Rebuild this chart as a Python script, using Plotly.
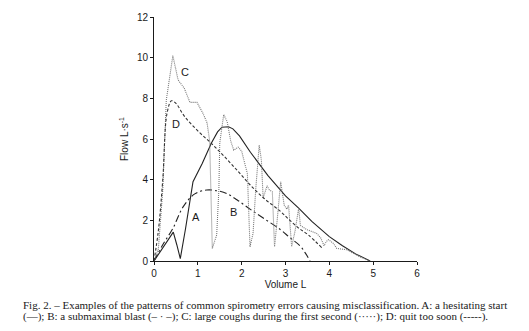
import plotly.graph_objects as go

# Flow-volume curves (Volume L, Flow L/s)
vol_a = [0, 0.2, 0.32, 0.44, 0.52, 0.60, 0.72, 0.89, 1.1, 1.31, 1.45, 1.55, 1.7, 1.8, 1.95, 2.2, 2.6, 3.0, 3.3, 3.6, 4.0, 4.3, 4.6, 4.93]
flow_a = [0, 0.65, 1.05, 1.42, 0.8, 0.12, 1.6, 3.9, 4.8, 5.8, 6.35, 6.58, 6.6, 6.5, 6.15, 5.35, 4.2, 3.2, 2.6, 1.95, 1.2, 0.75, 0.35, 0]

vol_b = [0, 0.2, 0.43, 0.66, 0.93, 1.2, 1.45, 1.66, 1.9, 2.19, 2.5, 2.88, 3.1, 3.33, 3.45, 3.56]
flow_b = [0, 0.8, 1.6, 2.65, 3.3, 3.49, 3.45, 3.32, 3.0, 2.55, 2.1, 1.55, 1.15, 0.75, 0.4, 0]

vol_c = [0, 0.1, 0.2, 0.28, 0.43, 0.55, 0.69, 0.82, 0.98, 1.12, 1.21, 1.27, 1.33, 1.43, 1.48, 1.5, 1.59, 1.67,
         1.75, 1.82, 1.92, 2.0, 2.07, 2.13, 2.19, 2.26, 2.32, 2.4, 2.45, 2.49, 2.58, 2.63, 2.7, 2.75, 2.81,
         2.89, 2.97, 3.03, 3.07, 3.14, 3.22, 3.3, 3.34, 3.48, 3.71, 3.8, 3.88, 3.93, 3.98, 4.09, 4.17, 4.4, 4.7, 4.93]
flow_c = [0, 0.6, 3.5, 7.9, 10.1, 8.9, 8.5, 7.8, 7.8, 7.25, 6.8, 5.9, 0.62, 1.28, 3.5, 5.8, 7.2, 6.85,
          5.9, 5.45, 5.6, 5.4, 4.8, 4.3, 0.7, 1.36, 3.5, 5.7, 4.96, 3.1, 3.7, 3.5, 3.4, 0.7, 2.0,
          3.9, 2.75, 2.55, 2.75, 0.7, 1.5, 2.6, 1.75, 1.55, 1.36, 1.15, 0.75, 0.95, 1.05, 0.87, 0.62, 0.55, 0.2, 0]

vol_d = [0, 0.1, 0.2, 0.3, 0.4, 0.5, 0.7, 1.0, 1.31, 1.6, 1.9, 2.19, 2.5, 2.88, 3.1, 3.3, 3.52, 3.83]
flow_d = [0, 1.5, 4.0, 7.3, 7.88, 7.75, 7.1, 6.4, 5.78, 5.15, 4.45, 3.75, 3.1, 2.45, 2.0, 1.62, 1.28, 0.65]

# Curve labels
label_text = ["A", "B", "C", "D"]
label_x = [0.95, 1.81, 0.70, 0.50]
label_y = [2.14, 2.42, 9.3, 6.73]

x_ticks = [0, 1, 2, 3, 4, 5, 6]
y_ticks = [0, 2, 4, 6, 8, 10, 12]

caption_lines = [
    "Fig. 2. \u2013 Examples of the patterns of common spirometry errors causing misclassification. A: a hesitating start",
    "(\u2014); B: a submaximal blast (\u2013 \u00b7 \u2013); C: large coughs during the first second (\u00b7\u00b7\u00b7\u00b7\u00b7); D: quit too soon (-----).",
]

SANS = "Liberation Sans, Arial, sans-serif"
SERIF = "Liberation Serif, Times New Roman, serif"
INK = "#1a1a1a"

# plot area in pixels: left 154.3, width 262.4; bottom 261, height 244.3
PLOT_L, PLOT_W, PLOT_B, PLOT_H = 154.3, 262.4, 261.0, 244.3

fig = go.Figure()
fig.add_trace(go.Scatter(x=vol_a, y=flow_a, mode="lines",
                         line=dict(color="#222222", width=1.1)))
fig.add_trace(go.Scatter(x=vol_b, y=flow_b, mode="lines", line_shape="spline",
                         line=dict(color="#222222", width=1.1, dash="7px,3px,2px,3px")))
fig.add_trace(go.Scatter(x=vol_c, y=flow_c, mode="lines",
                         line=dict(color="#777777", width=1.1, dash="1px,1px")))
fig.add_trace(go.Scatter(x=vol_d, y=flow_d, mode="lines", line_shape="spline",
                         line=dict(color="#333333", width=1.1, dash="3px,2px")))

for t, lx, ly in zip(label_text, label_x, label_y):
    fig.add_annotation(x=lx, y=ly, text=t, showarrow=False,
                       font=dict(family=SANS, size=11, color=INK))

for line, ypix in zip(caption_lines, [305.5, 317.0]):
    fig.add_annotation(xref="paper", yref="paper",
                       x=(22 - PLOT_L) / PLOT_W, y=(PLOT_B - ypix) / PLOT_H,
                       xanchor="left", yanchor="middle", text=line, showarrow=False,
                       font=dict(family=SERIF, size=11, color=INK))

fig.update_layout(
    width=529, height=331,
    margin=dict(l=PLOT_L, r=529 - PLOT_L - PLOT_W, t=PLOT_B - PLOT_H, b=331 - PLOT_B),
    paper_bgcolor="white", plot_bgcolor="white",
    showlegend=False,
    xaxis=dict(range=[0, 6], tickvals=x_ticks, showline=True, linecolor=INK, linewidth=1,
               ticks="outside", ticklen=3, tickcolor=INK, showgrid=False, zeroline=False,
               tickfont=dict(family=SANS, size=10, color=INK),
               title=dict(text="Volume L", font=dict(family=SANS, size=10, color=INK), standoff=2)),
    yaxis=dict(range=[0, 12], tickvals=y_ticks, showline=True, linecolor=INK, linewidth=1,
               ticks="outside", ticklen=3, tickcolor=INK, showgrid=False, zeroline=False,
               tickfont=dict(family=SANS, size=10, color=INK),
               title=dict(text="Flow L\u00b7s<sup>-1</sup>", font=dict(family=SANS, size=10, color=INK), standoff=6)),
)

fig.write_html("out.html")
